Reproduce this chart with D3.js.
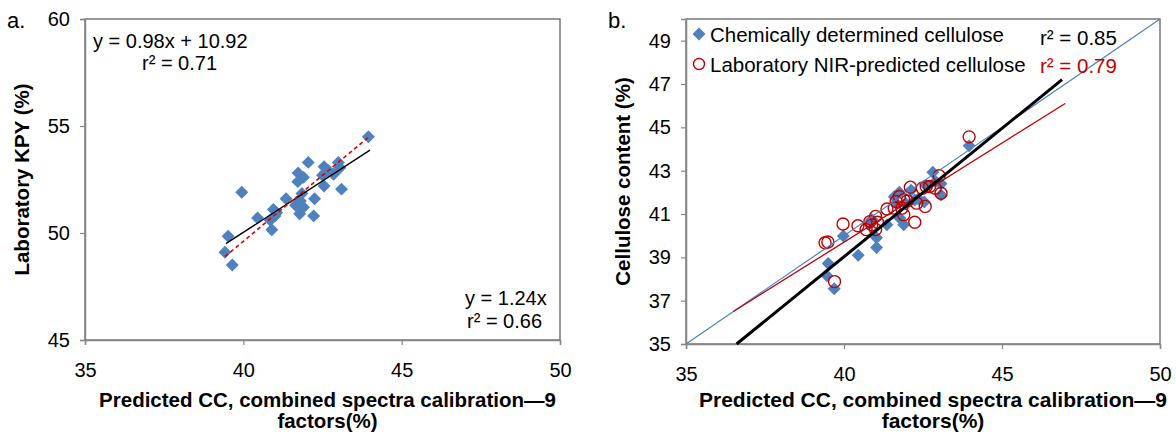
<!DOCTYPE html>
<html>
<head>
<meta charset="utf-8">
<script src="https://cdn.jsdelivr.net/npm/d3@7"></script>
<style>
  body { margin: 0; background: #fff; }
  svg text { font-family: "Liberation Sans", Arial, sans-serif; fill: #000; }
</style>
</head>
<body>
<script>
// panel a: predicted CC vs laboratory KPY
const aPred = [43.95, 42.05, 43.0, 42.55, 42.7, 43.05, 41.73, 41.9, 41.72, 42.85, 42.55, 43.1, 39.95, 41.85, 41.35, 42.25,
  41.8, 41.65, 40.95, 41.0, 40.45, 41.78, 42.22, 40.85, 40.9, 39.52, 39.42, 39.65, 41.05, 41.9, 42.5];
const aKpy = [54.5, 53.3, 53.3, 53.1, 52.9, 53.05, 52.8, 52.6, 52.4, 52.75, 52.2, 52.05, 51.9, 51.85, 51.6, 51.6,
  51.5, 51.3, 51.1, 50.8, 50.7, 50.9, 50.8, 50.6, 50.15, 49.85, 49.1, 48.5, 50.95, 51.2, 52.7];
const aFitLinear = [[39.45, 49.5], [44.0, 53.87]];
const aFitOrigin = [[39.42, 48.9], [43.97, 54.5]];
const aXTicks = [35, 40, 45, 50];
const aYTicks = [45, 50, 55, 60];

// panel b: predicted CC vs cellulose content
const bChemX = [43.96, 42.81, 43.07, 43.07, 42.6, 42.54, 42.12, 41.75, 41.59, 42.24, 41.95, 41.77, 41.89, 41.36, 41.03,
  41.03, 40.88, 40.8, 40.45, 39.98, 39.5, 39.46, 39.69, 42.9, 42.35, 41.65];
const bChemY = [44.15, 42.93, 42.4, 41.88, 42.3, 41.55, 42.1, 42.0, 41.8, 41.65, 41.5, 40.8, 40.5, 40.5, 39.9,
  39.45, 40.75, 40.55, 39.1, 39.98, 38.72, 38.15, 37.55, 42.5, 41.7, 41.5];
const bNirX = [43.96, 43.01, 43.07, 42.89, 42.71, 42.6, 42.48, 42.57, 42.1, 42.3, 41.89, 41.75, 41.65, 41.59, 41.83,
  41.89, 42.24, 41.36, 41.0, 41.06, 40.88, 40.7, 41.0, 40.44, 39.97, 39.49, 39.4, 39.7, 40.82, 42.0];
const bNirY = [44.56, 42.77, 41.96, 42.19, 42.27, 42.27, 42.19, 41.35, 42.24, 41.5, 41.66, 41.81, 41.58, 41.27, 41.27,
  40.97, 40.62, 41.23, 40.89, 40.62, 40.5, 40.28, 40.28, 40.46, 40.54, 39.71, 39.67, 37.88, 40.65, 41.6];
const bFitChem = [[36.6, 35], [46.9, 47.2]];
const bFitNir = [[36.5, 36.5], [47.0, 46.1]];
const bOneToOne = [[35, 35], [50, 50]];
const bXTicks = [35, 40, 45, 50];
const bYTicks = [35, 37, 39, 41, 43, 45, 47, 49];

const blue = "#4F81BD", red = "#C00000", gray = "#868686";
const xTitle1 = "Predicted CC, combined spectra calibration\u20149";
const xTitle2 = "factors(%)";

const svg = d3.select("body").append("svg")
  .attr("width", 1176)
  .attr("height", 432);

const diamond = d3.symbol().type(d3.symbolSquare).size(84);

function panel(box, xDom, yDom, xTicks, yTicks, yTitle, tag, titleShift, titleSize) {
  const x = d3.scaleLinear().domain(xDom).range([box.left, box.right]);
  const y = d3.scaleLinear().domain(yDom).range([box.bottom, box.top]);

  svg.append("rect")
    .attr("x", box.left).attr("y", box.top)
    .attr("width", box.right - box.left).attr("height", box.bottom - box.top)
    .attr("fill", "none").attr("stroke", "#555").attr("stroke-width", 1.2);

  const gx = svg.append("g")
    .attr("transform", "translate(0," + box.bottom + ")")
    .call(d3.axisBottom(x).tickValues(xTicks).tickSize(5).tickPadding(18).tickFormat(d3.format("d")));
  const gy = svg.append("g")
    .attr("transform", "translate(" + box.left + ",0)")
    .call(d3.axisLeft(y).tickValues(yTicks).tickSize(5).tickPadding(10).tickFormat(d3.format("d")));
  [gx, gy].forEach(g => {
    g.select(".domain").attr("stroke", gray).attr("stroke-width", 1.5);
    g.selectAll(".tick line").attr("stroke", gray).attr("stroke-width", 1.2);
    g.selectAll(".tick text").style("font-size", "20px")
      .style("font-family", '"Liberation Sans", Arial, sans-serif').attr("fill", "#000");
  });

  const cx = (box.left + box.right) / 2 + titleShift;
  svg.append("text").attr("x", cx).attr("y", 407)
    .attr("text-anchor", "middle").style("font-size", titleSize + "px").style("font-weight", "bold")
    .text(xTitle1);
  svg.append("text").attr("x", cx).attr("y", 428)
    .attr("text-anchor", "middle").style("font-size", titleSize + "px").style("font-weight", "bold")
    .text(xTitle2);

  svg.append("text")
    .attr("transform", "translate(" + (box.left - 56) + "," + ((box.top + box.bottom) / 2) + ") rotate(-90)")
    .attr("text-anchor", "middle").style("font-size", "20.5px").style("font-weight", "bold")
    .text(yTitle);

  svg.append("text").attr("x", box.left - 78).attr("y", 28)
    .style("font-size", "22px").text(tag);

  return { x, y };
}

// ---- panel a ----
const pa = panel({ left: 85, right: 560, top: 19, bottom: 340 }, [35, 50], [45, 60],
  aXTicks, aYTicks, "Laboratory KPY (%)", "a.", 5, 20.5);

svg.append("g").selectAll("path")
  .data(d3.zip(aPred, aKpy))
  .join("path")
  .attr("d", diamond)
  .attr("transform", d => "translate(" + pa.x(d[0]) + "," + pa.y(d[1]) + ") rotate(45)")
  .attr("fill", blue);

const lineA = d3.line().x(d => pa.x(d[0])).y(d => pa.y(d[1]));
svg.append("path").attr("d", lineA(aFitLinear))
  .attr("stroke", "#000").attr("stroke-width", 1.4).attr("fill", "none");
svg.append("path").attr("d", lineA(aFitOrigin))
  .attr("stroke", "#E00000").attr("stroke-width", 1.6).attr("stroke-dasharray", "4,3").attr("fill", "none");

svg.append("text").attr("x", 93).attr("y", 48).style("font-size", "20px").text("y = 0.98x + 10.92");
svg.append("text").attr("x", 142).attr("y", 70).style("font-size", "20px").text("r\u00b2 = 0.71");
svg.append("text").attr("x", 465).attr("y", 305).style("font-size", "20px").text("y = 1.24x");
svg.append("text").attr("x", 467).attr("y", 328).style("font-size", "20px").text("r\u00b2 = 0.66");

// ---- panel b ----
const pb = panel({ left: 686, right: 1160, top: 19, bottom: 344 }, [35, 50], [35, 50],
  bXTicks, bYTicks, "Cellulose content (%)", "b.", 10, 21);

svg.append("g").selectAll("path")
  .data(d3.zip(bChemX, bChemY))
  .join("path")
  .attr("d", diamond)
  .attr("transform", d => "translate(" + pb.x(d[0]) + "," + pb.y(d[1]) + ") rotate(45)")
  .attr("fill", blue);

svg.append("g").selectAll("circle")
  .data(d3.zip(bNirX, bNirY))
  .join("circle")
  .attr("cx", d => pb.x(d[0]))
  .attr("cy", d => pb.y(d[1]))
  .attr("r", 6)
  .attr("fill", "none")
  .attr("stroke", red)
  .attr("stroke-width", 1.4);

const lineB = d3.line().x(d => pb.x(d[0])).y(d => pb.y(d[1]));
svg.append("path").attr("d", lineB(bOneToOne))
  .attr("stroke", blue).attr("stroke-width", 1.2).attr("fill", "none");
svg.append("path").attr("d", lineB(bFitNir))
  .attr("stroke", red).attr("stroke-width", 1.3).attr("fill", "none");
svg.append("path").attr("d", lineB(bFitChem))
  .attr("stroke", "#000").attr("stroke-width", 3).attr("fill", "none");

// legend
svg.append("path").attr("d", diamond)
  .attr("transform", "translate(699,34) rotate(45)").attr("fill", blue);
svg.append("text").attr("x", 710).attr("y", 42).style("font-size", "20.5px").text("Chemically determined cellulose");
svg.append("circle").attr("cx", 699).attr("cy", 64).attr("r", 5.5)
  .attr("fill", "none").attr("stroke", red).attr("stroke-width", 1.4);
svg.append("text").attr("x", 710).attr("y", 72).style("font-size", "20.5px").text("Laboratory NIR-predicted cellulose");
svg.append("text").attr("x", 1040).attr("y", 45).style("font-size", "20.5px").text("r\u00b2 = 0.85");
svg.append("text").attr("x", 1040).attr("y", 73).style("font-size", "20.5px")
  .style("fill", red).text("r\u00b2 = 0.79");
</script>
</body>
</html>
